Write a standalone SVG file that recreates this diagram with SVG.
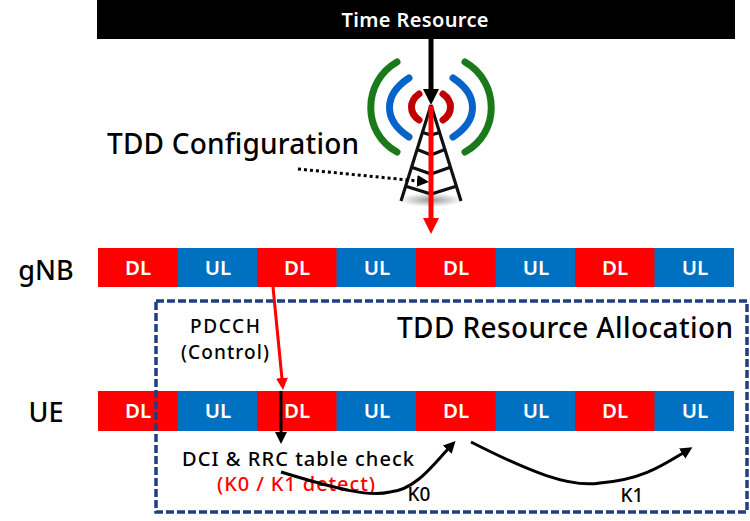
<svg xmlns="http://www.w3.org/2000/svg" width="750" height="521" viewBox="0 0 750 521">
<style>
text{font-family:"Noto Sans","Open Sans","Liberation Sans",sans-serif;text-anchor:middle;fill:#000}
.s{font-size:20.5px;font-weight:600;fill:#fff}
.dl{fill:#ff0000}.ul{fill:#0070c0}
.m{font-size:19px;font-weight:500}
.tw{fill:none;stroke:#111;stroke-width:3.2}
.wave{fill:none;stroke-width:7;stroke-linecap:round}
</style>
<defs>
<marker id="ab" markerUnits="userSpaceOnUse" markerWidth="17" markerHeight="17" refX="1" refY="8" orient="auto"><path d="M0 0L16 8L0 16z" fill="#000"/></marker>
<marker id="ar" markerUnits="userSpaceOnUse" markerWidth="17" markerHeight="17" refX="1" refY="8" orient="auto"><path d="M0 0L16 8L0 16z" fill="#f00"/></marker>
<marker id="as" markerUnits="userSpaceOnUse" markerWidth="14" markerHeight="14" refX="1" refY="6" orient="auto"><path d="M0 0L12 6L0 12z" fill="#000"/></marker>
<marker id="ars" markerUnits="userSpaceOnUse" markerWidth="14" markerHeight="14" refX="1" refY="6" orient="auto"><path d="M0 0L12 6L0 12z" fill="#f00"/></marker>
<radialGradient id="sh"><stop offset="0" stop-color="#999"/><stop offset="1" stop-color="#fff"/></radialGradient>
</defs>
<g id="time-resource"><rect x="97" y="0" width="638" height="39" fill="#000"/><text x="415" y="27" font-size="20" font-weight="600" style="fill:#fff" textLength="147">Time Resource</text></g>
<g id="tower">
<ellipse cx="431" cy="200" rx="32" ry="7" fill="url(#sh)"/>
<g class="wave" stroke="#1a7a1a"><path d="M397 62C362 82 362 133 397 152" class="wave"/><path d="M465 62C500 82 500 133 465 152" class="wave"/></g>
<g class="wave" stroke="#0563c9"><path d="M409 78C383 95 383 120 409 137" class="wave"/><path d="M453 78C479 95 479 120 453 137" class="wave"/></g>
<g class="wave" stroke="#c00000"><path d="M419 94C409 101 409 113 419 120" class="wave"/><path d="M443 94C453 101 453 113 443 120" class="wave"/></g>
<path class="tw" d="M431 105L401 201M431 105L461 201M431 105V210M421 132L431 135L441 132M416 149L431 155L446 149M411 167L431 174L451 167M405 186L431 194L457 186"/>
</g>
<g id="tdd-config"><text x="233" y="154" font-size="28" font-weight="500" textLength="252">TDD Configuration</text></g>
<g id="gnb-label"><text x="46" y="280" font-size="27" font-weight="500">gNB</text></g>
<g id="ue-label"><text x="46" y="422" font-size="27" font-weight="500">UE</text></g>
<g id="gnb-row">
<rect class="dl" x="98" y="248" width="80" height="39"/><rect class="ul" x="177.5" y="248" width="80" height="39"/><rect class="dl" x="257" y="248" width="80" height="39"/><rect class="ul" x="336.5" y="248" width="80" height="39"/><rect class="dl" x="416" y="248" width="80" height="39"/><rect class="ul" x="495.5" y="248" width="80" height="39"/><rect class="dl" x="575" y="248" width="80" height="39"/><rect class="ul" x="654.5" y="248" width="79.5" height="39"/>
<text class="s" x="138" y="275">DL</text><text class="s" x="218" y="275">UL</text><text class="s" x="297" y="275">DL</text><text class="s" x="377" y="275">UL</text><text class="s" x="456" y="275">DL</text><text class="s" x="536" y="275">UL</text><text class="s" x="615" y="275">DL</text><text class="s" x="695" y="275">UL</text>
</g>
<g id="ue-row">
<rect class="dl" x="98" y="391" width="80" height="40"/><rect class="ul" x="177.5" y="391" width="80" height="40"/><rect class="dl" x="257" y="391" width="80" height="40"/><rect class="ul" x="336.5" y="391" width="80" height="40"/><rect class="dl" x="416" y="391" width="80" height="40"/><rect class="ul" x="495.5" y="391" width="80" height="40"/><rect class="dl" x="575" y="391" width="80" height="40"/><rect class="ul" x="654.5" y="391" width="79.5" height="40"/>
<text class="s" x="138" y="418">DL</text><text class="s" x="218" y="418">UL</text><text class="s" x="297" y="418">DL</text><text class="s" x="377" y="418">UL</text><text class="s" x="456" y="418">DL</text><text class="s" x="536" y="418">UL</text><text class="s" x="615" y="418">DL</text><text class="s" x="695" y="418">UL</text>
</g>
<g id="tdd-resource-allocation"><rect x="156" y="301" width="591" height="211" fill="none" stroke="#1f3f80" stroke-width="3.5" stroke-dasharray="8 3"/><text x="565" y="338" font-size="28" font-weight="500" textLength="336">TDD Resource Allocation</text></g>
<g id="pdcch"><text class="m" x="225" y="333" textLength="70">PDCCH</text><text class="m" x="225" y="359" textLength="88">(Control)</text></g>
<g id="dci"><text x="298" y="466" font-size="20" font-weight="500" textLength="232">DCI &amp; RRC table check</text><text x="296" y="491" font-size="20" font-weight="500" style="fill:#f00" textLength="158">(K0 / K1 detect)</text></g>
<g id="k0"><text class="m" x="419" y="501">K0</text></g>
<g id="k1"><text class="m" x="632" y="502">K1</text></g>
<g id="connectors" fill="none">
<path d="M431 39V90" stroke="#000" stroke-width="5" marker-end="url(#ab)"/>
<path d="M431 106V219" stroke="#f00" stroke-width="5" marker-end="url(#ar)"/>
<path d="M298 169L418 181" stroke="#000" stroke-width="3" stroke-dasharray="3 3" marker-end="url(#as)"/>
<path d="M273 287L282 379" stroke="#f00" stroke-width="3" marker-end="url(#ars)"/>
<path d="M281 391V433" stroke="#000" stroke-width="3" marker-end="url(#as)"/>
<path d="M281 472C340 490 370 497 390 492C415 490 433 465 448 449" stroke="#000" stroke-width="3" marker-end="url(#as)"/>
<path d="M471 442C530 472 570 488 600 483C640 480 660 467 683 453" stroke="#000" stroke-width="3" marker-end="url(#as)"/>
</g>
</svg>
